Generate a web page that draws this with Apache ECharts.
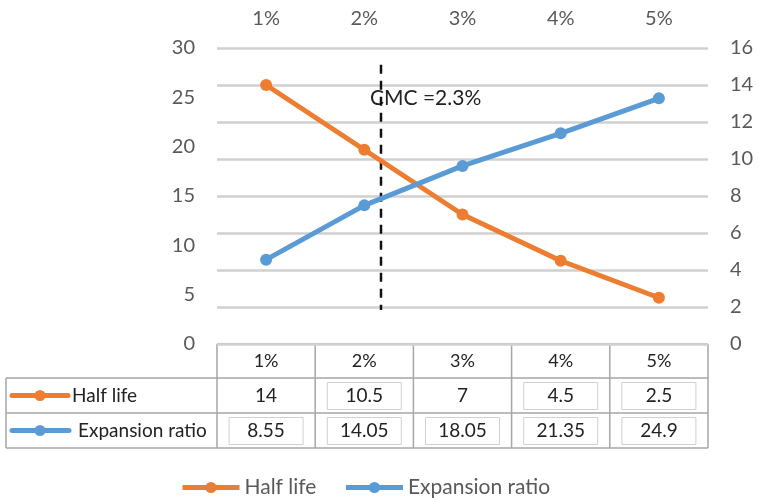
<!DOCTYPE html>
<html><head><meta charset="utf-8">
<script src="https://cdn.jsdelivr.net/npm/echarts@6/dist/echarts.min.js"></script>
<style>html,body{margin:0;padding:0;background:#fff}#c{width:758px;height:499px}</style>
</head><body><div id="c"></div>
<script>
var categories = ['1%', '2%', '3%', '4%', '5%'];
var halfLife = [14, 10.5, 7, 4.5, 2.5];
var expansionRatio = [8.55, 14.05, 18.05, 21.35, 24.9];
var halfLabels = ['14', '10.5', '7', '4.5', '2.5'];
var expLabels = ['8.55', '14.05', '18.05', '21.35', '24.9'];
var halfBoxed = [false, true, false, true, true];
var expBoxed = [true, true, true, true, true];
var cmcX = 2.17;            // position of the CMC marker in category units
var cmcLine = [28.3, 3.45]; // extent of the dashed line on left axis
var cmcText = 'CMC =2.3%';

var FONT = 'Lato';
var G = {left: 217, right: 708, top: 48, bottom: 344};
var colW = (G.right - G.left) / categories.length;
var rows = [344, 378, 413, 448];
var tableLeft = 6;
var ORANGE = '#ED7D31', BLUE = '#5B9BD5', BORDER = '#a6a6a6';

var graphics = [];
function hline(x1, x2, y) { graphics.push({type: 'line', shape: {x1: x1, y1: y, x2: x2, y2: y}, style: {stroke: BORDER, lineWidth: 1.5}, silent: true}); }
function vline(x, y1, y2) { graphics.push({type: 'line', shape: {x1: x, y1: y1, x2: x, y2: y2}, style: {stroke: BORDER, lineWidth: 1.5}, silent: true}); }
function text(x, y, s, align, size, color) {
  graphics.push({type: 'text', x: x, y: y, style: {text: s, font: size + 'px ' + FONT, fill: color || '#222', align: align || 'center', verticalAlign: 'middle'}, silent: true});
}
function box(cx, cy) {
  graphics.push({type: 'rect', shape: {x: cx - 37, y: cy - 13, width: 74, height: 27}, style: {fill: 'none', stroke: '#d0d0d0', lineWidth: 1}, silent: true});
}
// table borders
hline(G.left, G.right, rows[0]);
hline(tableLeft, G.right, rows[1]);
hline(tableLeft, G.right, rows[2]);
hline(tableLeft, G.right, rows[3]);
vline(tableLeft, rows[1], rows[3]);
for (var i = 0; i <= categories.length; i++) vline(G.left + i * colW, rows[0], rows[3]);
for (var i = 0; i < categories.length; i++) {
  var cx = G.left + (i + 0.5) * colW;
  text(cx, (rows[0] + rows[1]) / 2, categories[i], 'center', 18);
  var cy1 = (rows[1] + rows[2]) / 2, cy2 = (rows[2] + rows[3]) / 2;
  if (halfBoxed[i]) box(cx, cy1);
  if (expBoxed[i]) box(cx, cy2);
  text(cx, cy1, halfLabels[i], 'center', 19);
  text(cx, cy2, expLabels[i], 'center', 19);
}
// legend keys in table
function key(y, color, x2) {
  graphics.push({type: 'line', shape: {x1: 12, y1: y, x2: x2, y2: y}, style: {stroke: color, lineWidth: 5, lineCap: 'round'}, silent: true});
  graphics.push({type: 'circle', shape: {cx: 40, cy: y, r: 5.5}, style: {fill: color}, silent: true});
}
var ky1 = (rows[1] + rows[2]) / 2, ky2 = (rows[2] + rows[3]) / 2;
key(ky1, ORANGE, 68);
key(ky2, BLUE, 69);
text(72, ky1, 'Half life', 'left', 19);
text(78, ky2, 'Expansion ratio', 'left', 19);
// CMC label
text(370, 98, cmcText, 'left', 21, '#222');

var option = {
  animation: false,
  grid: {left: G.left, right: 758 - G.right, top: G.top, bottom: 499 - G.bottom, containLabel: false},
  xAxis: [
    {type: 'category', data: categories, position: 'top', boundaryGap: true,
     axisLine: {show: false}, axisTick: {show: false},
     axisLabel: {fontFamily: FONT, fontSize: 20, color: '#595959', margin: 19}},
    {type: 'value', min: 0.5, max: 5.5, show: false}
  ],
  yAxis: [
    {type: 'value', min: 0, max: 30, interval: 5, position: 'left',
     axisLine: {show: false}, axisTick: {show: false},
     axisLabel: {fontFamily: FONT, fontSize: 20, color: '#595959', margin: 22},
     splitLine: {show: false}},
    {type: 'value', min: 0, max: 16, interval: 2, position: 'right',
     axisLine: {show: false}, axisTick: {show: false},
     axisLabel: {fontFamily: FONT, fontSize: 20, color: '#595959', margin: 22},
     splitLine: {show: true, lineStyle: {color: '#d0d0d0', width: 2.5}}}
  ],
  legend: {
    data: ['Half life', 'Expansion ratio'], left: 175, top: 472, itemWidth: 57, itemHeight: 14, itemGap: 27,
    lineStyle: {width: 5},
    textStyle: {fontFamily: FONT, fontSize: 21, color: '#595959'}
  },
  series: [
    {name: 'Half life', type: 'line', xAxisIndex: 0, yAxisIndex: 1, data: halfLife,
     symbol: 'circle', symbolSize: 12, lineStyle: {color: ORANGE, width: 5}, itemStyle: {color: ORANGE}},
    {name: 'Expansion ratio', type: 'line', xAxisIndex: 0, yAxisIndex: 0, data: expansionRatio,
     symbol: 'circle', symbolSize: 12, lineStyle: {color: BLUE, width: 5}, itemStyle: {color: BLUE}},
    {name: 'CMC', type: 'line', xAxisIndex: 1, yAxisIndex: 0,
     data: [[cmcX, cmcLine[0]], [cmcX, cmcLine[1]]], symbol: 'none',
     lineStyle: {color: '#111', width: 2.5, type: [9, 7]}, z: 1}
  ],
  graphic: graphics
};
var chart = echarts.init(document.getElementById('c'));
chart.setOption(option);
</script></body></html>
